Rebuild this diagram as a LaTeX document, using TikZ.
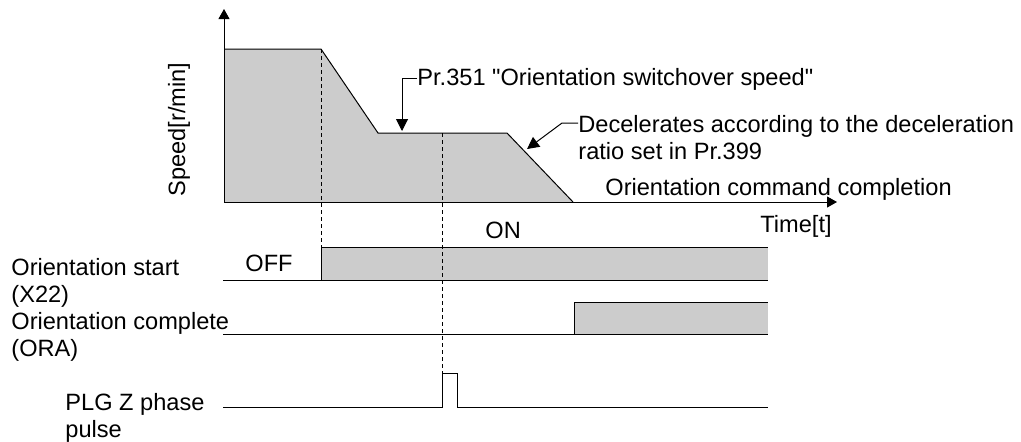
\documentclass[tikz,border=0pt]{standalone}
\usepackage{fontspec}
\setmainfont{Liberation Sans}
\usetikzlibrary{arrows.meta}
\tikzset{
  rotulo/.style={inner sep=0pt, anchor=base west, align=left, font=\fontsize{11.8}{13.4}\selectfont},
  sinal/.style={line width=0.5pt},
  nivel/.style={fill=gray!40},
  guia/.style={line width=0.5pt, dash pattern=on 2pt off 1.5pt},
  seta/.style={line width=0.5pt, -{Triangle[length=6pt,width=6pt]}},
  eixo/.style={line width=0.5pt, -{Triangle[length=5pt,width=5.5pt]}},
}

\begin{document}
\begin{tikzpicture}[x=0.5pt,y=-0.5pt]
  \useasboundingbox (0,0) rectangle (1021,441);

  % perfil de velocidade
  \fill[nivel] (224,202) -- (224,49) -- (321,49) -- (378,133) -- (507,133) -- (573,202) -- cycle;
  \draw[sinal] (224,49) -- (321,49) -- (378,133) -- (507,133) -- (573,202);
  \draw[eixo] (224,202) -- (224,9);
  \draw[eixo] (224,202) -- (837,202);

  % sinais
  \fill[nivel] (321,247) rectangle (768,280);
  \draw[sinal] (223,280) -- (768,280);
  \draw[sinal] (321,280) -- (321,247) -- (768,247);
  \fill[nivel] (574,302) rectangle (768,334);
  \draw[sinal] (223,334) -- (768,334);
  \draw[sinal] (574,334) -- (574,302) -- (768,302);
  \draw[sinal] (223,407) -- (442,407) -- (442,373) -- (457,373) -- (457,407) -- (768,407);

  \draw[guia] (321,49) -- (321,247);
  \draw[guia] (442,133) -- (442,373);

  % textos (multi-linha: base na ultima linha)
  \node[rotulo, rotate=90] (vel) at (185,197) {Speed[r/min]};
  \node[rotulo] (pr351) at (417,85) {Pr.351 \textquotedbl Orientation switchover speed\textquotedbl};
  \node[rotulo] (desac) at (578,159) {Decelerates according to the deceleration\\ratio set in Pr.399};
  \node[rotulo] (fim) at (605,195) {Orientation command completion};
  \node[rotulo] (tempo) at (760,232) {Time[t]};
  \node[rotulo] (on) at (485,238) {ON};
  \node[rotulo] (off) at (245,271) {OFF};
  \node[rotulo] (x22) at (11,302) {Orientation start\\(X22)};
  \node[rotulo] (ora) at (11,356) {Orientation complete\\(ORA)};
  \node[rotulo] (plg) at (65,437) {PLG Z phase\\pulse};

  % chamadas
  \coordinate (p1) at (402,131);
  \coordinate (d0) at (578,123);
  \coordinate (d1) at (527,149);
  \draw[seta] (pr351.west) -| (p1);
  \draw[seta] (d0) -- (562,123) -- (d1);
\end{tikzpicture}
\end{document}
